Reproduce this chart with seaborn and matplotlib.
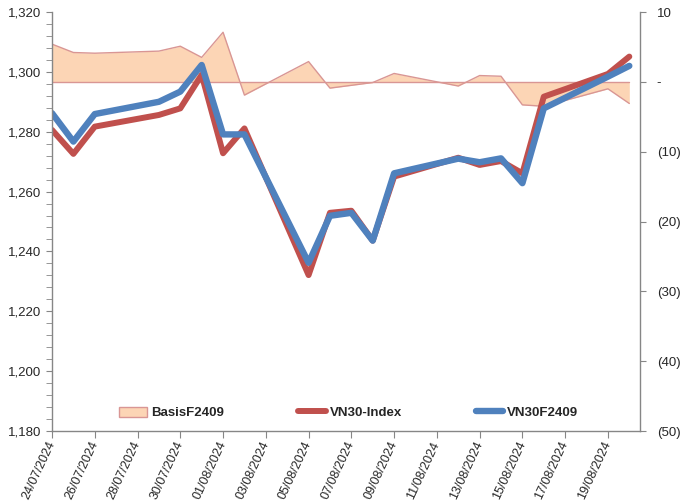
import numpy as np
import pandas as pd
import matplotlib
matplotlib.use("Agg")
import matplotlib.pyplot as plt
import matplotlib.dates as mdates
import matplotlib.ticker as mticker
from matplotlib.patches import Patch
from matplotlib.lines import Line2D
import seaborn as sns

sns.set_style("white")
plt.rcParams['font.family'] = ['Liberation Sans', 'DejaVu Sans']

# trading days
dates = ['24/07/2024', '25/07/2024', '26/07/2024', '29/07/2024', '30/07/2024',
         '31/07/2024', '01/08/2024', '02/08/2024', '05/08/2024', '06/08/2024',
         '07/08/2024', '08/08/2024', '09/08/2024', '12/08/2024', '13/08/2024',
         '14/08/2024', '15/08/2024', '16/08/2024', '19/08/2024', '20/08/2024']
vn30_index = [1280.6, 1272.6, 1281.7, 1285.6, 1287.8, 1299.0, 1272.8, 1281.1, 1232.1, 1252.9,
              1253.6, 1243.6, 1265.0, 1271.3, 1268.9, 1270.2, 1266.1, 1291.7, 1299.3, 1305.1]
vn30f2409 = [1286.2, 1276.7, 1285.9, 1290.0, 1293.4, 1302.3, 1279.1, 1279.1, 1236.2, 1251.9,
             1252.9, 1243.6, 1266.1, 1271.0, 1269.8, 1271.1, 1262.8, 1287.8, 1298.4, 1302.0]
basis = [5.4, 4.2, 4.1, 4.4, 5.1, 3.5, 7.1, -1.9, 2.9, -0.9,
         -0.5, -0.1, 1.2, -0.6, 0.9, 0.8, -3.3, -3.5, -1.0, -3.1]

df = pd.DataFrame({'date': pd.to_datetime(dates, format='%d/%m/%Y'),
                   'VN30-Index': vn30_index, 'VN30F2409': vn30f2409, 'BasisF2409': basis})

red = '#C0504D'
blue = '#4F81BD'
peach = '#FCD5B5'
peach_edge = '#D99694'
grey = '#868686'

fig = plt.figure(figsize=(6.87, 5.04), dpi=100)
ax1 = fig.add_axes([52/687, 1-431/504, 588/687, 419/504])
ax2 = ax1.twinx()

# basis area on the secondary axis (behind the lines)
ax2.fill_between(df['date'], 0, df['BasisF2409'], color=peach, linewidth=0)
sns.lineplot(data=df, x='date', y='BasisF2409', ax=ax2, color=peach_edge, linewidth=1)
ax2.plot([df['date'].iloc[0], df['date'].iloc[-1]], [0, 0], color=peach_edge, linewidth=1)

sns.lineplot(data=df, x='date', y='VN30-Index', ax=ax1, color=red, linewidth=4.3)
sns.lineplot(data=df, x='date', y='VN30F2409', ax=ax1, color=blue, linewidth=4.6)

ax1.set_zorder(ax2.get_zorder() + 1)
ax1.patch.set_visible(False)

ax1.set_ylim(1180, 1320)
ax1.yaxis.set_major_locator(mticker.MultipleLocator(20))
ax1.yaxis.set_minor_locator(mticker.MultipleLocator(4))
ax1.yaxis.set_major_formatter(mticker.FuncFormatter(lambda v, p: f'{v:,.0f}'))

ax2.set_ylim(-50, 10)
ax2.yaxis.set_major_locator(mticker.MultipleLocator(10))


def paren(v, p):
    if abs(v) < 1e-9:
        return '-'
    if v < 0:
        return f'({-v:.0f})'
    return f'{v:.0f}'


ax2.yaxis.set_major_formatter(mticker.FuncFormatter(paren))

start = pd.Timestamp('2024-07-24')
ax1.set_xlim(start, pd.Timestamp('2024-08-20 12:00'))
ax1.xaxis.set_major_locator(mdates.DayLocator(bymonthday=list(range(1, 32)), interval=1))
ticks = pd.date_range(start, '2024-08-19', freq='2D')
ax1.set_xticks(ticks)
ax1.set_xticklabels([t.strftime('%d/%m/%Y') for t in ticks], rotation=65,
                    ha='right', va='center', rotation_mode='anchor')

for ax in (ax1, ax2):
    ax.set_xlabel('')
    ax.set_ylabel('')
    ax.spines['top'].set_visible(False)
    for s in ('left', 'right', 'bottom'):
        ax.spines[s].set_color(grey)
        ax.spines[s].set_linewidth(1)
    ax.grid(False)

ax2.spines['left'].set_visible(False)
ax2.spines['bottom'].set_visible(False)
ax1.spines['right'].set_visible(False)

ax1.tick_params(axis='y', which='major', direction='out', length=4, color=grey,
                labelsize=9.5, pad=4, left=True)
ax1.tick_params(axis='y', which='minor', direction='out', length=4, color=grey, left=True)
ax1.tick_params(axis='x', direction='out', length=5, color=grey, labelsize=9,
                pad=3, bottom=True)
ax2.tick_params(axis='y', direction='out', length=4, color=grey, labelsize=9.5,
                pad=8, right=True)

handles = [Patch(facecolor=peach, edgecolor=peach_edge, linewidth=1),
           Line2D([0], [0], color=red, linewidth=4.3),
           Line2D([0], [0], color=blue, linewidth=4.6)]
labels = ['BasisF2409', 'VN30-Index', 'VN30F2409']
ax1.legend(handles, labels, loc='center', bbox_to_anchor=(0.505, 0.043), ncol=3,
           frameon=False, prop={'weight': 'bold', 'size': 9.5},
           handlelength=2.1, handleheight=0.8, handletextpad=0.3, columnspacing=5.6)

fig.savefig('out.png', dpi=100)
